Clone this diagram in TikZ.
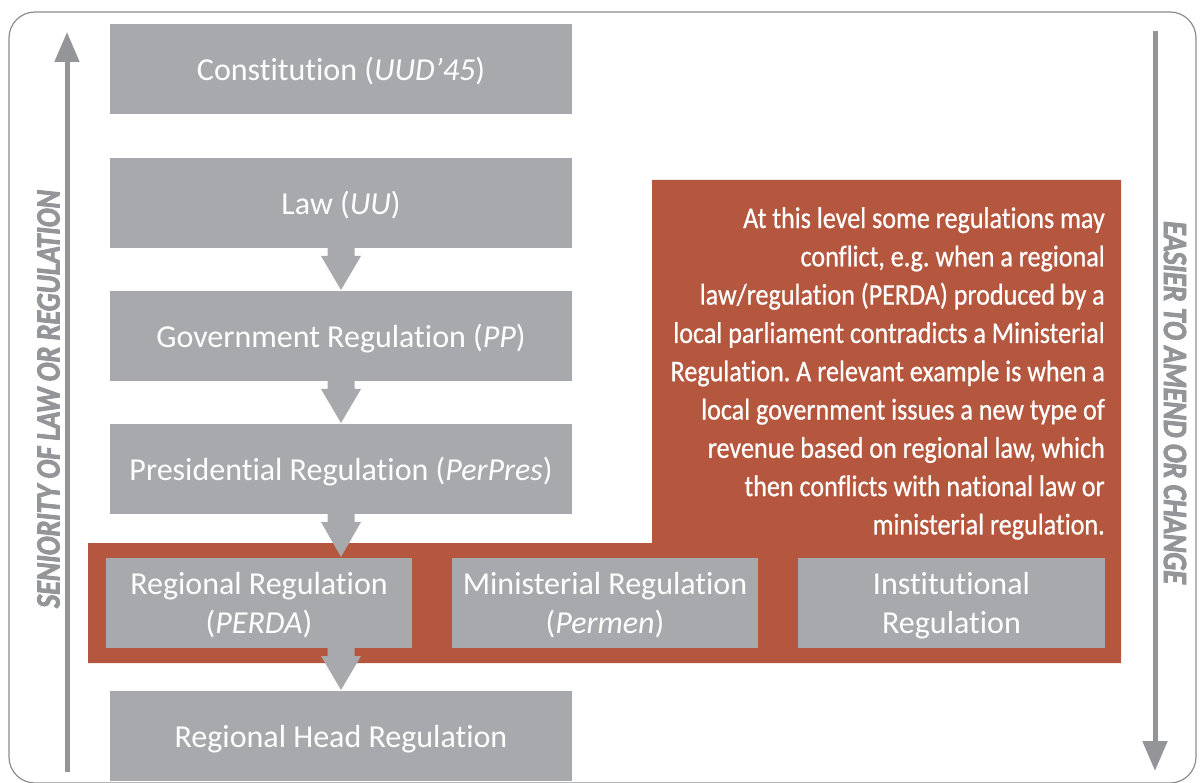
\documentclass[tikz,border=0pt]{standalone}
\usepackage{fontspec}
\setmainfont{Carlito}[Ligatures=NoCommon, RawFeature=-clig]
\newfontfamily\condf{Carlito}[FakeStretch=0.87, FakeBold=0.6, Ligatures=NoCommon, RawFeature=-clig]
\newfontfamily\axisf{Carlito}[FakeStretch=0.825, BoldItalicFeatures={FakeBold=2.6}, Ligatures=NoCommon, RawFeature=-clig]
\usetikzlibrary{arrows.meta,calc}
\frenchspacing
\definecolor{boxgray}{HTML}{A7A9AC}
\definecolor{axisgray}{HTML}{939598}
\definecolor{rust}{HTML}{B5573E}
\definecolor{framegray}{HTML}{8C8C8C}
\tikzset{
  gbox/.style={fill=boxgray, text=white, inner sep=0pt, outer sep=0pt,
    minimum width=462.5pt, minimum height=90pt, align=center, text depth=0pt,
    font=\fontsize{32}{39}\selectfont},
  sbox/.style={gbox, minimum width=306.5pt},
  axisarrow/.style={draw=axisgray, line width=5pt,
    -{Triangle[length=30pt,width=24pt]}},
  axislabel/.style={text=axisgray, inner sep=0pt,
    font=\axisf\bfseries\itshape\fontsize{34}{34}\selectfont},
  notetext/.style={text=white, inner sep=0pt, align=right, anchor=north east,
    font=\condf\fontsize{30}{38.3}\selectfont},
}
\newcommand\blockarr[2]{%
  \fill[boxgray] ($(#1)+(-13.5,0)$) -- ($(#1)+(-13.5,8)$) -- ($(#1)+(-20,8)$)
    -- ($(#2)+(0,-1)$) -- ($(#1)+(20,8)$) -- ($(#1)+(13.5,8)$)
    -- ($(#1)+(13.5,0)$) -- cycle;}
\begin{document}
\begin{tikzpicture}[x=1pt,y=-1pt]
\useasboundingbox (0,0) rectangle (1200,783);
\begin{scope}
\clip (0,0) rectangle (1200,783);
% frame
\draw[framegray, line width=1.2pt, rounded corners=26pt] (9,12) rectangle (1196,783);
% red conflict region
\fill[rust] (88,543) -- (652,543) -- (652,180) -- (1121,180) -- (1121,663) -- (88,663) -- cycle;
\end{scope}

% boxes
\node[gbox] (con) at (341,69) {Constitution (\textit{UUD'45})};
\node[gbox] (law) at (341,203) {Law (\textit{UU})};
\node[gbox] (gov) at (341,336) {Government Regulation (\textit{PP})};
\node[gbox] (pres) at (341,469) {Presidential Regulation (\textit{PerPres})};
\node[sbox] (reg) at (259,603) {Regional Regulation\\(\textit{PERDA})};
\node[sbox] (min) at (605,603) {Ministerial Regulation\\(\textit{Permen})};
\node[sbox] (inst) at (951.5,603) {Institutional\\Regulation};
\node[gbox] (head) at (341,736) {Regional Head Regulation};

% block arrows
\coordinate (p3a) at (pres.south);
\coordinate (p3b) at (pres.south |- reg.north);
\coordinate (p4a) at (reg.south -| head.north);
\coordinate (p4b) at (head.north);
\blockarr{law.south}{gov.north}
\blockarr{gov.south}{pres.north}
\blockarr{p3a}{p3b}
\blockarr{p4a}{p4b}

% note text
\node[notetext] (note) at (1105,207) {At this level some regulations may\\
conflict, e.g. when a regional\\
law/regulation (PERDA) produced by a\\
local parliament contradicts a Ministerial\\
Regulation. A relevant example is when a\\
local government issues a new type of\\
revenue based on regional law, which\\
then conflicts with national law or\\
ministerial regulation.};

% axes
\coordinate (lbot) at (67,772);
\coordinate (ltop) at (67,32);
\draw[axisarrow] (lbot) -- (ltop);
\coordinate (rtop) at (1155,31);
\coordinate (rbot) at (1155,771);
\draw[axisarrow] (rtop) -- (rbot);
\node[axislabel, rotate=90] (sen) at (48.5,399) {SENIORITY OF LAW OR REGULATION};
\node[axislabel, rotate=-90] (eas) at (1175,402.5) {EASIER TO AMEND OR CHANGE};
\end{tikzpicture}
\end{document}
